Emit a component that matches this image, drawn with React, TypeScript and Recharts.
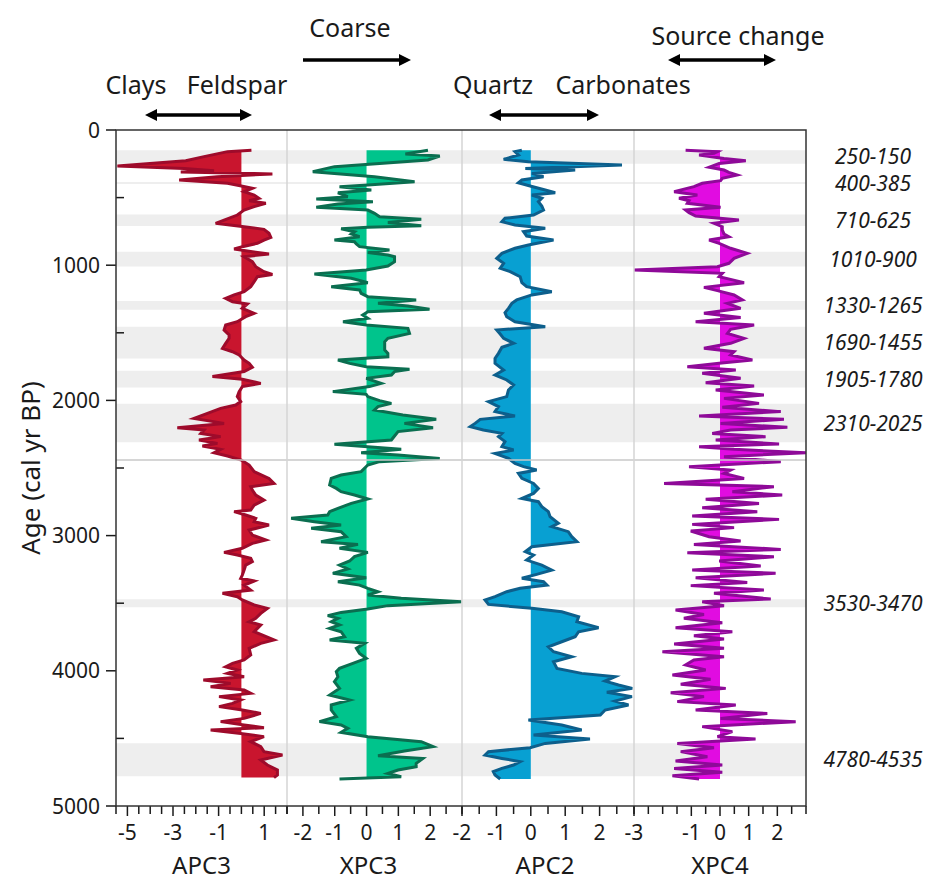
import React from "react";
import {
  ComposedChart,
  Area,
  XAxis,
  YAxis,
  ReferenceArea,
  ReferenceLine,
} from "recharts";

// [age (cal yr BP), score]
const apc3: number[][] = [
  [150, 0.44], [160, -0.61], [197, -1.64], [227, -2.44], [266, -5.44], [284, -2.51], [301, -1.2], [311, -2.66],
  [325, 1.36], [345, -1.05], [370, -2.73], [394, -0.61], [414, 0], [431, 0.48], [456, 0.12], [481, 0.56],
  [505, 0.77], [523, 0.34], [542, 1.07], [567, 0.56], [592, 0.12], [629, -0.18], [666, -0.76], [690, -1.13],
  [715, 0.12], [735, 0.99], [764, 1.21], [794, 1.29], [814, 0.99], [838, 0.7], [863, 0.04], [880, -0.32],
  [900, 0.48], [917, 1.21], [937, 0.12], [974, 0.48], [1011, 0.63], [1048, 0.99], [1068, 1.36], [1085, 0.7],
  [1122, 0.56], [1159, 0.41], [1196, 0.12], [1220, -0.32], [1245, -0.69], [1270, -0.39], [1287, 0.26], [1319, 0.04],
  [1356, 0.56], [1381, 0.19], [1418, -0.18], [1442, -0.69], [1479, -0.76], [1516, -0.54], [1541, -0.54], [1578, -0.69],
  [1615, -0.83], [1640, -0.39], [1664, -0.1], [1701, 0.12], [1726, 0.34], [1755, 0.48], [1787, 0.12], [1824, -1.27],
  [1844, 0.04], [1874, 0.85], [1898, 0.04], [1935, -0.1], [1972, -0.18], [2009, -0.03], [2034, -0.25], [2059, -0.91],
  [2096, -1.49], [2133, -2.08], [2170, -0.76], [2202, -2.81], [2219, -1.64], [2244, -1.78], [2268, -0.91], [2293, -1.86],
  [2318, -1.05], [2337, -1.71], [2362, -0.91], [2387, -1.2], [2411, -0.61], [2441, 0], [2478, 0.34], [2527, 0.56],
  [2577, 1.21], [2614, 1.43], [2638, 0.41], [2663, 0.48], [2700, 0.63], [2737, 0.99], [2774, 0.56], [2811, 0.41],
  [2823, -0.32], [2848, 0.19], [2872, 0.63], [2897, 0.56], [2922, 1.21], [2959, 0.34], [2996, 0.48], [3033, 1.07],
  [3057, 0.48], [3094, 0.04], [3124, -0.76], [3144, -0.18], [3168, 0.41], [3193, 0.48], [3218, 0.19], [3255, 0.12],
  [3292, 0.04], [3316, -0.03], [3336, 0.56], [3366, 0.12], [3403, 0.41], [3427, -0.83], [3452, -0.18], [3476, 0.04],
  [3513, 0.56], [3538, 1.14], [3575, 0.85], [3612, 0.63], [3637, 0.34], [3661, 0.85], [3711, 0.56], [3772, 1.43],
  [3797, 0.85], [3834, 0.34], [3883, 0.41], [3920, 0.12], [3945, -0.39], [3970, -0.69], [3994, -0.18], [4019, -0.61],
  [4044, 0.12], [4068, -1.67], [4093, -0.47], [4118, -1.35], [4142, 0.12], [4167, 0.41], [4191, -0.98], [4216, -0.03],
  [4241, -0.39], [4265, -0.98], [4290, 0.04], [4315, 0.85], [4352, 0.12], [4376, -0.91], [4401, 0.12], [4421, 0.99],
  [4438, -1.35], [4463, -0.03], [4487, 0.99], [4524, 0.41], [4561, 0.85], [4598, 0.99], [4623, 1.8], [4660, 0.85],
  [4697, 1.14], [4734, 1.58], [4771, 1.58], [4790, 1.43],
];

const xpc3: number[][] = [
  [150, 1.93], [178, 1.22], [192, 2.3], [222, 1.93], [271, -1.01], [308, -1.69], [345, 0.25], [382, 1.51],
  [407, 0.04], [419, -0.85], [444, 0.15], [464, -0.9], [493, -0.59], [510, -1.58], [530, 0.2], [547, -0.9],
  [572, -1.58], [592, 0.04], [616, 0.25], [641, 0.41], [661, 1.72], [685, 0.67], [708, 1.72], [720, 0.04],
  [730, -0.8], [752, -0.38], [769, -0.48], [789, -0.22], [814, -1.01], [826, -0.38], [843, -0.32], [863, -0.22],
  [888, 0.72], [907, 0.04], [925, 0.67], [937, 0.88], [974, 0.88], [1006, 0.67], [1036, -0.01], [1065, -1.64],
  [1097, -0.48], [1129, 0.04], [1159, -1.11], [1183, -0.22], [1208, -0.17], [1233, 0.04], [1257, 1.56], [1282, 0.36],
  [1302, 1.3], [1326, 1.98], [1344, 0.04], [1368, -0.12], [1393, 0.04], [1418, -0.74], [1442, -0.01], [1467, 1.3],
  [1504, 1.35], [1541, 0.67], [1566, 0.57], [1590, 0.57], [1627, 0.57], [1652, 0.67], [1677, 0.67], [1701, -0.9],
  [1726, -0.53], [1751, -0.01], [1770, 1.35], [1787, 0.88], [1812, 0.78], [1837, -0.01], [1874, 0.46], [1898, 0.09],
  [1935, -1.06], [1955, -0.01], [1972, 0.04], [2002, 0.41], [2022, 0.78], [2046, 0.36], [2071, 0.25], [2108, 1.14],
  [2140, 2.19], [2170, 1.19], [2202, 2.09], [2231, 0.99], [2263, 0.88], [2293, 0.78], [2325, -1.01], [2362, 1.09],
  [2387, -0.17], [2404, 0.99], [2429, 2.3], [2453, 0.41], [2478, 0.04], [2527, -0.17], [2552, -0.8], [2577, -1.11],
  [2626, -1.16], [2651, -0.95], [2675, -0.8], [2700, -0.38], [2729, 0.04], [2762, -0.48], [2798, -0.9], [2823, -1.16],
  [2848, -1.22], [2872, -2.37], [2897, -1.64], [2922, -0.8], [2946, -1.74], [2971, -0.8], [3008, -0.64], [3045, -1.43],
  [3065, -0.27], [3094, -0.85], [3124, 0.04], [3156, -0.38], [3188, -0.53], [3218, -0.85], [3247, -0.59], [3279, -1.06],
  [3311, -0.01], [3341, -0.9], [3366, -0.22], [3390, 0.04], [3415, 0.36], [3440, 0.04], [3464, 1.09], [3489, 2.98],
  [3518, 0.67], [3543, 0.04], [3568, -0.8], [3592, -1.22], [3612, -0.9], [3637, -1.11], [3661, -0.85], [3686, -1.16],
  [3711, -0.8], [3748, -0.69], [3772, -1.16], [3797, -0.06], [3834, -0.32], [3871, -0.22], [3908, -0.01], [3945, -0.43],
  [3982, -0.85], [4007, -0.95], [4044, -0.9], [4081, -1.01], [4130, -0.85], [4179, -1.16], [4216, -0.53], [4253, -1.11],
  [4290, -1.11], [4339, -0.95], [4376, -1.48], [4401, -0.8], [4426, -0.59], [4455, -0.8], [4487, 0.04], [4524, 1.72],
  [4561, 2.09], [4593, 1.19], [4628, 0.36], [4648, 1.77], [4685, 1.56], [4709, 1.56], [4734, 0.99], [4759, 0.67],
  [4783, 1.09], [4800, -0.85],
];

const apc2: number[][] = [
  [150, -0.26], [160, -0.46], [185, -0.36], [217, -0.79], [234, -0.07], [259, 2.65], [284, -0.16], [296, 1.29],
  [321, 0.03], [345, 0.37], [370, -0.26], [390, -0.36], [414, -0.02], [444, 0.42], [464, 0.71], [481, 0.03],
  [505, 0.32], [530, 0.22], [562, 0.32], [592, 0.37], [629, 0.08], [653, -0.75], [678, -0.84], [703, -0.46],
  [727, 0.42], [752, -0.21], [784, -0.12], [814, 0.66], [851, -0.07], [875, -0.46], [912, -0.84], [949, -0.99],
  [986, -0.79], [1023, -0.89], [1048, -0.6], [1085, -0.31], [1129, -0.26], [1159, -0.12], [1196, 0.61], [1220, 0.03],
  [1257, -0.41], [1282, -0.55], [1319, -0.65], [1351, -0.75], [1381, -0.7], [1418, -0.46], [1455, 0.42], [1479, -0.99],
  [1509, -0.89], [1541, -0.79], [1578, -0.5], [1607, -0.84], [1652, -0.94], [1689, -1.04], [1726, -1.04], [1775, -0.79],
  [1812, -1.04], [1849, -0.7], [1886, -0.5], [1923, -0.65], [1972, -0.7], [2009, -1.23], [2046, -0.94], [2083, -1.04],
  [2115, -0.46], [2140, -1.47], [2170, -1.62], [2194, -1.76], [2219, -1.38], [2244, -0.84], [2268, -0.94], [2305, -0.75],
  [2342, -0.84], [2367, -0.5], [2392, -1.04], [2429, -0.65], [2466, -0.46], [2490, -0.21], [2515, 0.17], [2540, -0.36],
  [2577, -0.26], [2614, 0.08], [2651, 0.22], [2688, 0.08], [2725, -0.26], [2749, 0.22], [2786, 0.32], [2823, 0.51],
  [2860, 0.56], [2909, 0.8], [2934, 0.61], [2971, 1.09], [3008, 1.19], [3045, 1.34], [3082, 0.03], [3119, -0.16],
  [3144, 0.08], [3181, -0.12], [3218, 0.32], [3255, 0.61], [3287, 0.17], [3316, -0.26], [3341, 0.37], [3366, 0.47],
  [3390, -0.31], [3415, -0.7], [3452, -1.04], [3476, -1.33], [3509, -1.23], [3538, 0.03], [3563, 0.9], [3600, 1.39],
  [3637, 1.34], [3681, 1.97], [3711, 1.39], [3748, 1.29], [3785, 0.9], [3822, 0.51], [3859, 0.66], [3896, 1.19],
  [3933, 0.66], [3982, 0.76], [4019, 1.48], [4044, 2.45], [4076, 2.16], [4105, 2.55], [4130, 2.95], [4159, 2.21],
  [4191, 2.94], [4224, 2.45], [4253, 2.84], [4290, 2.16], [4327, 2.02], [4364, -0.07], [4401, 0.9], [4438, 1.48],
  [4475, 0.08], [4505, 1.72], [4537, 0.42], [4569, -0.02], [4598, -1.23], [4623, -1.33], [4648, -0.84], [4672, -0.31],
  [4697, -0.5], [4722, -0.84], [4746, -1.09], [4771, -1.04], [4800, -0.89],
];

const xpc4: number[][] = [
  [150, -1.2], [160, -0.09], [173, -0.21], [185, -0.73], [210, 0.14], [227, 0.9], [247, -0.03], [276, -0.38],
  [296, 0.14], [313, 0.31], [333, 0.6], [357, 0.08], [375, 0.02], [394, -0.62], [419, -0.91], [456, -1.6],
  [481, -0.79], [505, -1.43], [523, -1.08], [542, -1.14], [572, 0.02], [592, -1.2], [611, -1.08], [636, -0.85],
  [666, 0.66], [690, -0.21], [715, 0.08], [740, 0.08], [769, 0.14], [789, 0.31], [814, -0.38], [838, -0.03],
  [875, 0.37], [912, 0.95], [949, 0.49], [986, 0.31], [1011, -0.09], [1036, -3.0], [1060, 0.08], [1085, -0.03],
  [1129, 0.84], [1164, -0.56], [1188, -0.09], [1220, 0.49], [1257, 0.78], [1282, 0.26], [1319, 0.72], [1356, -0.56],
  [1386, 0.72], [1418, -0.85], [1442, 1.19], [1474, 0.37], [1504, 0.26], [1541, 0.84], [1578, 0.37], [1615, -0.56],
  [1640, 0.49], [1664, 0.37], [1701, 1.13], [1726, -0.03], [1751, -1.14], [1775, 0.55], [1800, -0.62], [1837, 0.72],
  [1869, -0.5], [1893, 1.19], [1923, -0.15], [1960, 1.53], [1985, 0.14], [2022, 1.36], [2051, 0.08], [2083, 2.12],
  [2115, -0.73], [2140, 2.23], [2170, 0.02], [2199, 2.35], [2219, 0.37], [2244, -0.27], [2268, 1.59], [2293, -0.15],
  [2322, 2.06], [2342, -0.73], [2362, 0.49], [2387, 3.0], [2416, 0.14], [2453, 2.12], [2490, -1.08], [2515, 0.37],
  [2540, 0.14], [2577, 0.84], [2614, -1.95], [2638, 1.88], [2675, 0.43], [2700, 2.17], [2732, -0.5], [2762, 1.36],
  [2794, -0.62], [2823, 1.3], [2855, -0.97], [2880, 2.06], [2917, -0.97], [2941, 0.49], [2966, -1.02], [3008, -0.38],
  [3040, 0.72], [3065, -0.91], [3102, 2.12], [3126, -1.14], [3156, 1.88], [3188, -0.03], [3225, 1.42], [3255, -0.97],
  [3279, 1.94], [3311, -0.85], [3346, 0.95], [3370, -1.02], [3403, 1.53], [3427, -0.21], [3469, 1.77], [3489, -0.62],
  [3518, 0.14], [3550, -1.55], [3583, -0.56], [3612, -1.26], [3644, 0.08], [3681, -1.55], [3711, 0.43], [3740, -0.91],
  [3765, 0.14], [3802, -1.6], [3834, 0.14], [3859, -2.01], [3896, 0.14], [3920, -0.91], [3957, -1.2], [3994, -0.5],
  [4031, -1.66], [4063, -0.33], [4100, -1.37], [4130, 0.2], [4162, -1.72], [4191, -0.56], [4228, -1.49], [4253, 0.55],
  [4290, -0.85], [4315, 1.65], [4352, 0.02], [4376, 2.64], [4413, -0.62], [4450, 0.43], [4487, -0.09], [4505, 1.24],
  [4537, -1.49], [4569, -0.21], [4598, -1.37], [4635, -0.44], [4667, -1.55], [4697, 0.08], [4722, -1.6], [4751, 0.08],
  [4776, -1.66], [4800, -0.73],
];

// highlighted age intervals
const bandFrom = [150, 385, 625, 900, 1265, 1455, 1780, 2025, 3470, 4535];
const bandTo = [250, 400, 710, 1010, 1330, 1690, 1905, 2310, 3530, 4780];
const bandLabels = [
  "250-150", "400-385", "710-625", "1010-900", "1330-1265",
  "1690-1455", "1905-1780", "2310-2025", "3530-3470", "4780-4535",
];

const ageTicks = [0, 500, 1000, 1500, 2000, 2500, 3000, 3500, 4000, 4500, 5000];
const ageLabels = [0, 1000, 2000, 3000, 4000, 5000];

const apc3Ticks = [-5.5, -5, -4.5, -4, -3.5, -3, -2.5, -2, -1.5, -1, -0.5, 0, 0.5, 1, 1.5, 2];
const xpc3Ticks = [-2.5, -2, -1.5, -1, -0.5, 0, 0.5, 1, 1.5, 2, 2.5, 3];
const apc2Ticks = [-2, -1.5, -1, -0.5, 0, 0.5, 1, 1.5, 2, 2.5, 3];
const xpc4Ticks = [-3, -2.5, -2, -1.5, -1, -0.5, 0, 0.5, 1, 1.5, 2, 2.5, 3];

const panels = [
  { name: "APC3", data: apc3, left: 116, width: 171, domain: [-5.5, 2], ticks: apc3Ticks, labels: [-5, -3, -1, 1], fill: "#C9152E", stroke: "#9E0B2B", dx: 0 },
  { name: "XPC3", data: xpc3, left: 287, width: 175, domain: [-2.5, 3], ticks: xpc3Ticks, labels: [-2, -1, 0, 1, 2], fill: "#00C48C", stroke: "#0B6E50", dx: -6 },
  { name: "APC2", data: apc2, left: 462, width: 172, domain: [-2, 3], ticks: apc2Ticks, labels: [-2, -1, 0, 1, 2], fill: "#08A0D2", stroke: "#0D5F8C", dx: -3 },
  { name: "XPC4", data: xpc4, left: 634, width: 172, domain: [-3, 3], ticks: xpc4Ticks, labels: [-3, -1, 0, 1, 2], fill: "#E10CE1", stroke: "#8E0A98", dx: 0 },
];

const PAGE = 8;
const TOP = 130;
const PH = 676;
const MT = 20;
const AXIS_H = 82;
const YW = 108;
const SIDE = 24;
const INK = "#1a1a1a";

function XTick(props: any) {
  const { x, y, payload, labels } = props;
  const v = payload.value;
  const show = labels.includes(v);
  return (
    <g>
      <line x1={x} x2={x} y1={y} y2={y + (show ? 10 : 8)} stroke={INK} strokeWidth={1.5} />
      {show && (
        <text x={x} y={y + 34} textAnchor="middle" fontSize={21} fill={INK}>
          {String(v)}
        </text>
      )}
    </g>
  );
}

function YTick(props: any) {
  const { x, y, payload } = props;
  const v = payload.value;
  const major = ageLabels.includes(v);
  return (
    <g>
      {major ? (
        <line x1={x - 10} x2={x} y1={y} y2={y} stroke={INK} strokeWidth={1.5} />
      ) : (
        <line x1={x} x2={x + 8} y1={y} y2={y} stroke={INK} strokeWidth={1.5} />
      )}
      {major && (
        <text x={x - 16} y={y} dy="0.36em" textAnchor="end" fontSize={21} fill={INK}>
          {v}
        </text>
      )}
    </g>
  );
}

function Panel({ p, first, last }: { p: any; first: boolean; last: boolean }) {
  const rows = p.data.map(([age, val]: number[]) => ({ age, val }));
  const yw = first ? YW : 0;
  const ml = first ? 0 : SIDE;
  const mr = last ? 126 : SIDE;
  return (
    <div style={{ position: "absolute", left: p.left - yw - ml - PAGE, top: TOP - MT - PAGE }}>
      <ComposedChart
        layout="vertical"
        width={ml + yw + p.width + mr}
        height={MT + PH + AXIS_H}
        data={rows}
        margin={{ top: MT, right: mr, bottom: 0, left: ml }}
      >
        <XAxis
          type="number"
          domain={p.domain}
          ticks={p.ticks}
          interval={0}
          allowDataOverflow
          axisLine={false}
          tickLine={false}
          tickSize={0}
          tickMargin={0}
          height={AXIS_H}
          tick={(t: any) => <XTick {...t} labels={p.labels} />}
          label={{ value: p.name, position: "insideBottom", offset: 14, dx: p.dx, fontSize: 24, fill: INK }}
        />
        <YAxis
          type="number"
          dataKey="age"
          domain={[0, 5000]}
          ticks={ageTicks}
          interval={0}
          allowDataOverflow
          hide={!first}
          width={yw}
          axisLine={false}
          tickLine={false}
          tickSize={0}
          tickMargin={0}
          tick={(t: any) => <YTick {...t} />}
        />
        {bandFrom.map((b, i) => (
          <ReferenceArea
            key={i}
            y1={b}
            y2={bandTo[i]}
            fill="#eeeeee"
            fillOpacity={1}
            stroke="none"
            label={
              last
                ? { value: bandLabels[i], position: "right", offset: 67, textAnchor: "middle", fontSize: 21, fontStyle: "italic", fill: INK }
                : undefined
            }
          />
        ))}
        <ReferenceLine y={2440} stroke="#c8c8c8" strokeWidth={1.5} />
        <Area
          type="linear"
          dataKey="val"
          stroke={p.stroke}
          strokeWidth={3}
          fill={p.fill}
          fillOpacity={1}
          dot={false}
          activeDot={false}
          isAnimationActive={false}
        />
      </ComposedChart>
    </div>
  );
}

function Arrow({ x1, x2, y, both }: { x1: number; x2: number; y: number; both: boolean }) {
  const h = 12;
  const w = 6;
  return (
    <g>
      <line x1={both ? x1 + h - 2 : x1} x2={x2 - h + 2} y1={y} y2={y} stroke="#000" strokeWidth={3.5} />
      <polygon points={`${x2},${y} ${x2 - h},${y - w} ${x2 - h},${y + w}`} fill="#000" />
      {both && <polygon points={`${x1},${y} ${x1 + h},${y - w} ${x1 + h},${y + w}`} fill="#000" />}
    </g>
  );
}

export default function App() {
  const txt = { fontSize: 25, fill: INK, textAnchor: "middle" as const, dominantBaseline: "central" as const };
  return (
    <div style={{ position: "relative", width: 924, height: 876, fontFamily: "'Noto Sans', sans-serif", background: "#fff" }}>
      {panels.map((p, i) => (
        <Panel key={p.name} p={p} first={i === 0} last={i === panels.length - 1} />
      ))}
      <svg
        width={932}
        height={884}
        style={{ position: "absolute", left: -PAGE, top: -PAGE, pointerEvents: "none" }}
      >
        {[287, 462, 634].map((x) => (
          <line key={x} x1={x} x2={x} y1={TOP} y2={TOP + PH} stroke="#d4d4d4" strokeWidth={1.5} />
        ))}
        <rect x={116} y={TOP} width={690} height={PH} fill="none" stroke="#333" strokeWidth={1.5} />
        <text {...txt} fontSize={26} x={30} y={468} transform="rotate(-90 30 468)">Age (cal yr BP)</text>
        <text {...txt} x={136} y={84}>Clays</text>
        <text {...txt} x={237} y={84}>Feldspar</text>
        <Arrow x1={145} x2={252} y={115} both />
        <text {...txt} x={350} y={27}>Coarse</text>
        <Arrow x1={303} x2={411} y={60} both={false} />
        <text {...txt} x={493} y={84}>Quartz</text>
        <text {...txt} x={623} y={84}>Carbonates</text>
        <Arrow x1={489} x2={599} y={115} both />
        <text {...txt} x={738} y={35}>Source change</text>
        <Arrow x1={668} x2={776} y={60} both />
      </svg>
    </div>
  );
}
